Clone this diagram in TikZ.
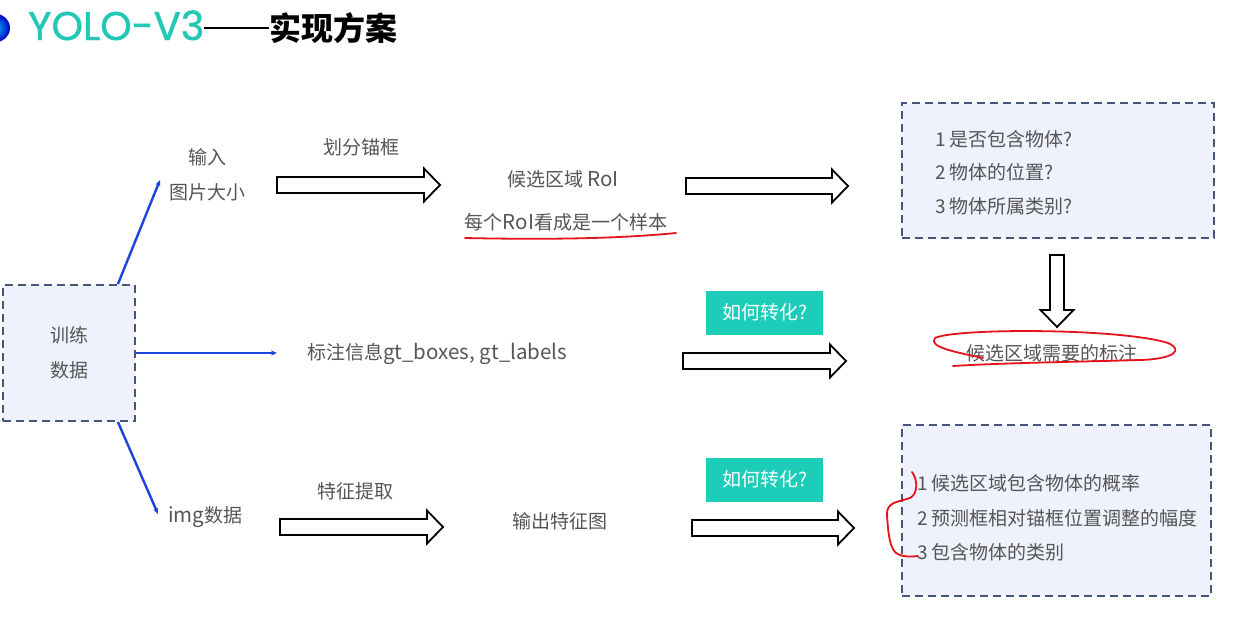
\documentclass[tikz,border=0pt]{standalone}
\usepackage{fontspec}
\setmainfont{Noto Sans CJK SC}
\newfontfamily\titlefont[FakeBold=1.2]{Poppins}
\newcommand\lat[1]{{\fontsize{20.5}{22}\selectfont #1}}
\usetikzlibrary{arrows.meta}
\definecolor{txt}{HTML}{555555}
\definecolor{tealbox}{HTML}{1DCDB9}
\definecolor{titleteal}{HTML}{22C8B4}
\definecolor{boxfill}{HTML}{EFF1FC}
\definecolor{boxline}{HTML}{46557A}
\definecolor{lineblue}{HTML}{1B45DA}
\definecolor{penred}{HTML}{E5121C}

% horizontal hollow arrow: left x, centre y, length
\newcommand\fatright[3]{%
  \draw[fat] (#1,#2-8) -- (#1+#3-16,#2-8) -- (#1+#3-16,#2-16.5) -- (#1+#3,#2)
    -- (#1+#3-16,#2+16.5) -- (#1+#3-16,#2+8) -- (#1,#2+8) -- cycle;}

\begin{document}
\begin{tikzpicture}[x=1pt,y=-1pt,
  lbl/.style={text=txt,font=\fontsize{19}{22}\selectfont,inner sep=0pt},
  dashbox/.style={draw=boxline,fill=boxfill,line width=1.8pt,dash pattern=on 8pt off 5pt,inner sep=0pt},
  link/.style={draw=lineblue,line width=2.4pt,-{Stealth[length=6pt,width=5pt]}},
  fat/.style={draw=black,line width=1.8pt,fill=white,line join=miter},
  askbox/.style={fill=tealbox,text=white,font=\fontsize{19}{22}\selectfont,
    minimum width=117pt,minimum height=44pt,inner sep=0pt},
  redpen/.style={draw=penred,line width=1.8pt,line cap=round,line join=round}]

\useasboundingbox (0,0) rectangle (1260,625);
\fill[white] (0,0) rectangle (1260,625);

% heading
\begin{scope}
  \clip (0,0) rectangle (40,60);
  \shade[inner color=cyan!70!blue, outer color=blue!75!black] (-4,28) circle (14);
\end{scope}
\node[anchor=base west,inner sep=0pt] (title) at (28,40)
  {{\titlefont\fontsize{40}{44}\selectfont\color{titleteal}YOLO-V3}\rule[11.5pt]{65pt}{2pt}{\fontsize{32}{36}\selectfont\bfseries 实现方案}};

% training data box
\node[dashbox,minimum width=132pt,minimum height=136pt,align=center,
      text=txt,font=\fontsize{19}{35}\selectfont] (train) at (69,353) {训练\\数据};

% branch targets
\coordinate (tipA) at (160,180);
\coordinate (tipB) at (277,353);
\coordinate (tipC) at (158,514);
\draw[link] ([xshift=-18pt]train.north east) -- (tipA);
\draw[link] (train.east) -- (tipB);
\draw[link] ([xshift=-18pt]train.south east) -- (tipC);

% row 1
\node[lbl] (inA) at (207,157) {输入};
\node[lbl] (inB) at (207,192) {图片大小};
\node[lbl] (split) at (361,147) {划分锚框};
\node[lbl] (roi) at (563,179) {候选区域 \lat{RoI}};
\node[lbl] (sample) at (566,222) {每个\lat{RoI}看成是一个样本};
\fatright{277}{185}{163}
\fatright{686}{186}{162}

\node[dashbox,minimum width=312pt,minimum height=135pt] (q) at (1058,170.5) {};
\node[lbl,anchor=west] (q1) at (935,139) {1 是否包含物体?};
\node[lbl,anchor=west] (q2) at (935,172) {2 物体的位置?};
\node[lbl,anchor=west] (q3) at (935,206) {3 物体所属类别?};

% downward hollow arrow
\draw[fat] (1050,255) -- (1064,255) -- (1064,310) -- (1073.5,310) -- (1057,327)
  -- (1040.5,310) -- (1050,310) -- cycle;

% row 2
\node[lbl,anchor=west] (gt) at (307,354) {标注信息\lat{gt\_boxes, gt\_labels}};
\node[askbox] (askA) at (764.5,312.5) {如何转化?};
\fatright{683}{361}{163}
\node[lbl] (need) at (1052,353) {候选区域需要的标注};

% row 3
\node[lbl,anchor=west] (img) at (168,517) {\lat{img}数据};
\node[lbl] (feat) at (355,491) {特征提取};
\node[lbl] (fmap) at (560,521) {输出特征图};
\fatright{280}{527}{163}
\node[askbox] (askB) at (764.5,479.5) {如何转化?};
\fatright{692}{528}{162}

\node[dashbox,minimum width=309pt,minimum height=171pt] (out) at (1056.5,510.5) {};
\node[lbl,anchor=west] (o1) at (917,483) {1 候选区域包含物体的概率};
\node[lbl,anchor=west] (o2) at (917,518) {2 预测框相对锚框位置调整的幅度};
\node[lbl,anchor=west] (o3) at (917,552) {3 包含物体的类别};

% red pen marks
\draw[redpen] (465,238) .. controls (560,240) and (625,238) .. (676,233);
\draw[redpen] (983,358) .. controls (955,352) and (928,347) .. (935,338)
  .. controls (955,328) and (1120,328) .. (1168,343)
  .. controls (1184,350) and (1174,359) .. (1140,360)
  .. controls (1070,362) and (1000,363) .. (953,366);
\draw[redpen] (912,472) .. controls (918,480) and (918,494) .. (910,498)
  .. controls (898,502) and (886,502) .. (887,515)
  .. controls (888,530) and (889,545) .. (895,552)
  .. controls (900,557) and (910,557) .. (918,556);
\end{tikzpicture}
\end{document}
